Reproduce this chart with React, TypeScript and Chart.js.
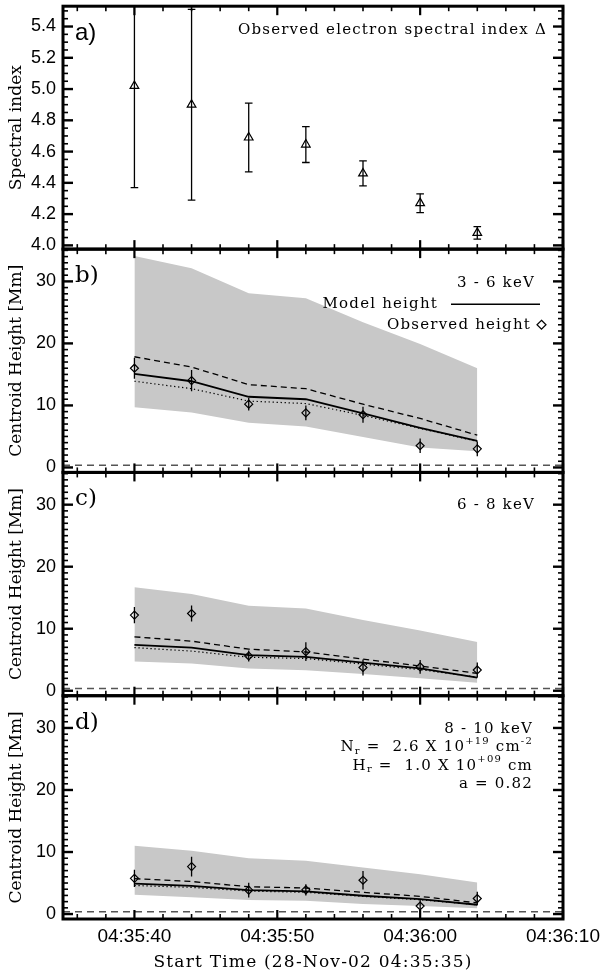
import { useEffect, useRef } from "react"
import { Chart, registerables, type Plugin } from "chart.js"

Chart.register(...registerables)

// x = seconds after 04:35:35
const times = [5, 9, 13, 17, 21, 25, 29]
const timeTicks = [5, 15, 25, 35]
const timeLabels = ["04:35:40", "04:35:50", "04:36:00", "04:36:10"]
const xTitle = "Start Time (28-Nov-02 04:35:35)"

// a) observed electron spectral index
const spectralIndex = [5.02, 4.9, 4.69, 4.645, 4.46, 4.27, 4.08]
const spectralErr = [0.65, 0.61, 0.22, 0.115, 0.08, 0.06, 0.04]
const indexTicks = [4.0, 4.2, 4.4, 4.6, 4.8, 5.0, 5.2, 5.4]

const heightTicks = [0, 10, 20, 30]
const floorTimes = [0, 35]
const floorLevel = [0.35, 0.35]

// b) 3 - 6 keV
const bandTopB = [34.1, 32.1, 28.1, 27.3, 23.4, 19.9, 16.0]
const bandBottomB = [9.7, 8.85, 7.2, 6.6, 4.9, 3.2, 2.6]
const dashedB = [17.85, 16.2, 13.35, 12.7, 10.2, 7.9, 5.2]
const modelB = [15.1, 13.9, 11.4, 11.0, 8.7, 6.4, 4.3]
const dottedB = [13.9, 12.7, 10.7, 10.3, 8.4, 6.3, 4.2]
const observedB = [16.0, 14.0, 10.2, 8.8, 8.5, 3.5, 3.0]
const observedErrB = [1.7, 1.7, 1.0, 1.2, 1.3, 1.15, 1.2]

// c) 6 - 8 keV
const bandTopC = [16.7, 15.6, 13.7, 13.25, 11.4, 9.7, 7.85]
const bandBottomC = [4.7, 4.4, 3.6, 3.3, 2.7, 2.0, 1.3]
const dashedC = [8.7, 8.0, 6.7, 6.25, 5.1, 4.0, 2.8]
const modelC = [7.4, 6.95, 5.75, 5.45, 4.55, 3.6, 2.1]
const dottedC = [6.95, 6.4, 5.4, 5.2, 4.3, 3.4, 2.2]
const observedC = [12.2, 12.45, 5.6, 6.3, 3.75, 3.85, 3.35]
const observedErrC = [1.3, 1.3, 0.9, 1.5, 1.3, 1.1, 1.2]

// d) 8 - 10 keV
const bandTopD = [11.0, 10.2, 9.0, 8.6, 7.5, 6.4, 5.1]
const bandBottomD = [3.1, 2.7, 2.25, 2.15, 1.6, 1.3, 0.95]
const dashedD = [5.7, 5.25, 4.4, 4.2, 3.5, 2.85, 1.8]
const modelD = [4.9, 4.55, 3.85, 3.65, 2.95, 2.4, 1.5]
const dottedD = [4.6, 4.3, 3.7, 3.5, 2.85, 2.3, 1.5]
const observedD = [5.75, 7.65, 3.85, 3.9, 5.45, 1.3, 2.5]
const observedErrD = [1.4, 1.6, 1.2, 0.9, 1.5, 1.0, 1.1]

const SERIF = '"DejaVu Serif", serif'
const SANS = '"Liberation Sans", Arial, sans-serif'
const BAND = "#c8c8c8"

const pts = (xs: number[], ys: number[]) => xs.map((x, i) => ({ x, y: ys[i] }))
const errPts = (ys: number[], es: number[]) => times.map((x, i) => ({ x, y: [ys[i] - es[i], ys[i] + es[i]] }))

const heightPanels = [
  { id: "yb", top: bandTopB, bottom: bandBottomB, dashed: dashedB, model: modelB, dotted: dottedB, obs: observedB, err: observedErrB },
  { id: "yc", top: bandTopC, bottom: bandBottomC, dashed: dashedC, model: modelC, dotted: dottedC, obs: observedC, err: observedErrC },
  { id: "yd", top: bandTopD, bottom: bandBottomD, dashed: dashedD, model: modelD, dotted: dottedD, obs: observedD, err: observedErrD },
]

// tick marks on the frames
const frameSpecs = [
  { id: "ya", from: 4.0, to: 5.5, step: 0.05, major: 0.2 },
  { id: "yb", from: 0, to: 35, step: 1, major: 10 },
  { id: "yc", from: 0, to: 35, step: 1, major: 10 },
  { id: "yd", from: 0, to: 35, step: 1, major: 10 },
]

const isMultiple = (v: number, m: number) => Math.abs(v / m - Math.round(v / m)) < 1e-6

const framePlugin: Plugin = {
  id: "frames",
  afterDatasetsDraw(chart) {
    const { ctx, chartArea, scales } = chart
    const { left, right } = chartArea
    const xs = scales.x
    const seg = (x1: number, y1: number, x2: number, y2: number, w: number) => {
      ctx.lineWidth = w
      ctx.beginPath()
      ctx.moveTo(x1, y1)
      ctx.lineTo(x2, y2)
      ctx.stroke()
    }
    ctx.save()
    ctx.strokeStyle = "#000"
    for (const f of frameSpecs) {
      const ys = scales[f.id]
      const { top, bottom } = ys
      for (let t = 1; t <= 35; t += 2) {
        const px = xs.getPixelForValue(t)
        const major = timeTicks.includes(t)
        const len = major ? 9 : 5
        const w = major ? 2.2 : 1.6
        seg(px, top, px, top + len, w)
        seg(px, bottom, px, bottom - len, w)
      }
      const n = Math.round((f.to - f.from) / f.step)
      for (let k = 0; k <= n; k++) {
        const v = f.from + k * f.step
        const py = ys.getPixelForValue(v)
        if (py < top - 0.5 || py > bottom + 0.5) continue
        const major = isMultiple(v, f.major)
        const len = major ? 10 : 5
        const w = major ? 2.4 : 1.6
        seg(left, py, left + len, py, w)
        seg(right, py, right - len, py, w)
      }
      ctx.lineWidth = 3
      ctx.strokeRect(left, top, right - left, bottom - top)
    }
    ctx.restore()
  },
}

type Part = { t: string; size: number; dy?: number }

function richRight(ctx: CanvasRenderingContext2D, parts: Part[], right: number, y: number) {
  const ws = parts.map((p) => {
    ctx.font = `${p.size}px ${SERIF}`
    return ctx.measureText(p.t).width
  })
  let x = right - ws.reduce((a, b) => a + b, 0)
  parts.forEach((p, i) => {
    ctx.font = `${p.size}px ${SERIF}`
    ctx.fillText(p.t, x, y + (p.dy ?? 0))
    x += ws[i]
  })
}

const textPlugin: Plugin = {
  id: "texts",
  afterDraw(chart) {
    const { ctx, chartArea, scales } = chart
    const R = chartArea.right
    const L = chartArea.left
    const ya = scales.ya.top
    const yb = scales.yb.top
    const yc = scales.yc.top
    const yd = scales.yd.top
    ctx.save()
    ctx.fillStyle = "#000"
    ctx.strokeStyle = "#000"
    ctx.textBaseline = "middle"
    ctx.textAlign = "left"

    // panel letters
    ctx.font = `24px ${SANS}`
    ctx.fillText("a)", L + 12, ya + 27)
    ctx.font = `23px ${SERIF}`
    ctx.fillText("b)", L + 12, yb + 27)
    ctx.fillText("c)", L + 12, yc + 27)
    ctx.fillText("d)", L + 12, yd + 27)

    ;(ctx as any).letterSpacing = "1.2px"
    richRight(ctx, [{ t: "Observed electron spectral index \u0394", size: 15 }], R - 16, ya + 24)

    richRight(ctx, [{ t: "3 - 6 keV", size: 15 }], R - 28, yb + 34)
    richRight(ctx, [{ t: "Model height", size: 15 }], R - 125, yb + 55)
    ctx.lineWidth = 1.5
    ctx.beginPath()
    ctx.moveTo(R - 112, yb + 55)
    ctx.lineTo(R - 23, yb + 55)
    ctx.stroke()
    richRight(ctx, [{ t: "Observed height", size: 15 }], R - 32, yb + 75.6)
    const dx = R - 21.5
    const dy = yb + 75.6
    ctx.lineWidth = 1.2
    ctx.beginPath()
    ctx.moveTo(dx, dy - 4.5)
    ctx.lineTo(dx + 4.5, dy)
    ctx.lineTo(dx, dy + 4.5)
    ctx.lineTo(dx - 4.5, dy)
    ctx.closePath()
    ctx.stroke()

    richRight(ctx, [{ t: "6 - 8 keV", size: 15 }], R - 28, yc + 33)

    richRight(ctx, [{ t: "8 - 10 keV", size: 15 }], R - 30, yd + 33)
    richRight(
      ctx,
      [
        { t: "N", size: 15 },
        { t: "r", size: 10, dy: 4 },
        { t: " =  2.6 X 10", size: 15 },
        { t: "+19", size: 10, dy: -6 },
        { t: " cm", size: 15 },
        { t: "-2", size: 10, dy: -6 },
      ],
      R - 30,
      yd + 51.5
    )
    richRight(
      ctx,
      [
        { t: "H", size: 15 },
        { t: "r", size: 10, dy: 4 },
        { t: " =  1.0 X 10", size: 15 },
        { t: "+09", size: 10, dy: -6 },
        { t: " cm", size: 15 },
      ],
      R - 30,
      yd + 70
    )
    richRight(ctx, [{ t: "a = 0.82", size: 15 }], R - 30, yd + 88.5)

    ctx.textAlign = "center"
    ctx.font = `17px ${SERIF}`
    ctx.fillText(xTitle, (L + R) / 2, 963)
    ctx.restore()
  },
}

const yAxis = (
  weight: number,
  order: number,
  min: number,
  max: number,
  ticks: number[],
  digits: number,
  title: string
) => ({
  type: "linear" as const,
  position: "left" as const,
  stack: "panels",
  stackWeight: weight,
  weight: order,
  min,
  max,
  offset: false,
  grid: { display: false, drawTicks: false },
  border: { display: false },
  ticks: {
    autoSkip: false,
    padding: 7,
    color: "#000",
    font: { family: SANS, size: 18 },
    callback: (v: number | string) => Number(v).toFixed(digits),
  },
  title: {
    display: true,
    text: title,
    color: "#000",
    font: { family: SERIF, size: 17 },
    padding: { top: 6, bottom: 0 },
  },
  afterBuildTicks: (s: any) => {
    s.ticks = ticks.map((value) => ({ value }))
  },
  afterFit: (s: any) => {
    s.width = 63
    s.paddingTop = 0
    s.paddingBottom = 0
  },
})

export default function App() {
  const canvasRef = useRef<HTMLCanvasElement>(null)
  const chartRef = useRef<Chart | null>(null)

  useEffect(() => {
    if (!canvasRef.current) return
    if (chartRef.current) chartRef.current.destroy()

    const datasets: any[] = [
      {
        type: "bar",
        yAxisID: "ya",
        data: errPts(spectralIndex, spectralErr),
        backgroundColor: "#000",
        borderWidth: 0,
        grouped: false,
        maxBarThickness: 1.3,
        order: 1,
      },
      {
        type: "line",
        yAxisID: "ya",
        data: [
          ...pts(times, spectralIndex.map((v, i) => v - spectralErr[i])),
          ...pts(times, spectralIndex.map((v, i) => v + spectralErr[i])),
        ],
        showLine: false,
        pointStyle: "line",
        pointRadius: 3.8,
        pointBorderWidth: 1.3,
        pointBorderColor: "#000",
        order: 0,
      },
      {
        type: "line",
        yAxisID: "ya",
        data: pts(times, spectralIndex),
        showLine: false,
        pointStyle: "triangle",
        pointRadius: 5,
        pointBorderWidth: 1.2,
        pointBorderColor: "#000",
        pointBackgroundColor: "rgba(0,0,0,0)",
        order: 0,
      },
    ]

    for (const p of heightPanels) {
      datasets.push(
        {
          type: "line",
          yAxisID: p.id,
          data: pts(times, p.bottom),
          borderWidth: 0,
          pointRadius: 0,
          fill: false,
          order: 10,
        },
        {
          type: "line",
          yAxisID: p.id,
          data: pts(times, p.top),
          borderWidth: 0,
          pointRadius: 0,
          fill: "-1",
          backgroundColor: BAND,
          order: 10,
        },
        {
          type: "line",
          yAxisID: p.id,
          data: pts(floorTimes, floorLevel),
          borderColor: "#555",
          borderWidth: 1.5,
          borderDash: [7, 5],
          pointRadius: 0,
          fill: false,
          order: 3,
        },
        {
          type: "line",
          yAxisID: p.id,
          data: pts(times, p.dashed),
          borderColor: "#000",
          borderWidth: 1.3,
          borderDash: [6, 4],
          pointRadius: 0,
          fill: false,
          order: 2,
        },
        {
          type: "line",
          yAxisID: p.id,
          data: pts(times, p.dotted),
          borderColor: "#000",
          borderWidth: 1.2,
          borderDash: [1.3, 2.7],
          pointRadius: 0,
          fill: false,
          order: 2,
        },
        {
          type: "line",
          yAxisID: p.id,
          data: pts(times, p.model),
          borderColor: "#000",
          borderWidth: 1.8,
          pointRadius: 0,
          fill: false,
          order: 2,
        },
        {
          type: "bar",
          yAxisID: p.id,
          data: errPts(p.obs, p.err),
          backgroundColor: "#000",
          borderWidth: 0,
          grouped: false,
          maxBarThickness: 1.3,
          order: 1,
        },
        {
          type: "line",
          yAxisID: p.id,
          data: pts(times, p.obs),
          showLine: false,
          pointStyle: "rectRot",
          pointRadius: 4,
          pointBorderWidth: 1.2,
          pointBorderColor: "#000",
          pointBackgroundColor: "rgba(0,0,0,0)",
          order: 0,
        }
      )
    }

    chartRef.current = new Chart(canvasRef.current, {
      type: "line",
      data: { datasets },
      options: {
        responsive: true,
        maintainAspectRatio: false,
        animation: false,
        events: [],
        layout: { padding: { top: 3.3, right: 37, bottom: 0, left: 0 } },
        plugins: {
          legend: { display: false },
          tooltip: { enabled: false },
          filler: { propagate: false, drawTime: "beforeDatasetsDraw" },
        } as any,
        scales: {
          x: {
            type: "linear",
            position: "bottom",
            min: 0,
            max: 35,
            offset: false,
            grid: { display: false, drawTicks: false, offset: false },
            border: { display: false },
            ticks: {
              autoSkip: false,
              minRotation: 0,
              maxRotation: 0,
              padding: 6,
              color: "#000",
              font: { family: SANS, size: 19 },
              callback: (v: number | string) => timeLabels[timeTicks.indexOf(Number(v))] ?? "",
            },
            afterBuildTicks: (s: any) => {
              s.ticks = timeTicks.map((value) => ({ value }))
            },
            afterFit: (s: any) => {
              s.height = 53
              s.paddingLeft = 0
              s.paddingRight = 0
            },
          },
          yd: yAxis(224, 1, -0.8, 35.2, heightTicks, 0, "Centroid Height [Mm]"),
          yc: yAxis(224, 2, -0.8, 35.2, heightTicks, 0, "Centroid Height [Mm]"),
          yb: yAxis(224, 3, -0.8, 35.2, heightTicks, 0, "Centroid Height [Mm]"),
          ya: yAxis(243.7, 4, 3.976, 5.53, indexTicks, 1, "Spectral index"),
        } as any,
      },
      plugins: [framePlugin, textPlugin],
    })

    return () => {
      if (chartRef.current) {
        chartRef.current.destroy()
        chartRef.current = null
      }
    }
  }, [])

  return (
    <div style={{ position: "fixed", left: 0, top: 0, width: 600, height: 972, background: "#fff" }}>
      <canvas ref={canvasRef} />
    </div>
  )
}
